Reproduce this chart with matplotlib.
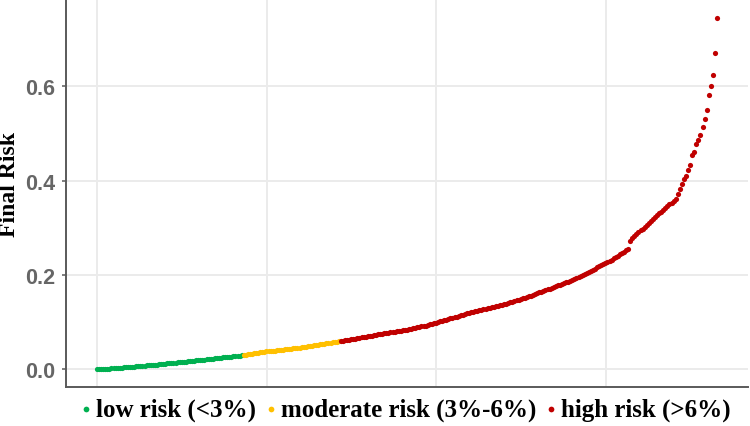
import numpy as np
import matplotlib
matplotlib.use("Agg")
from matplotlib import pyplot as plt

# final risk per patient, sorted
low_risk = [
    0.0000, 0.0003, 0.0006, 0.0009, 0.0012, 0.0016, 0.0019, 0.0022, 0.0025, 0.0028,
    0.0031, 0.0035, 0.0039, 0.0042, 0.0046, 0.0050, 0.0053, 0.0057, 0.0061, 0.0064,
    0.0068, 0.0072, 0.0076, 0.0080, 0.0084, 0.0088, 0.0092, 0.0096, 0.0100, 0.0104,
    0.0108, 0.0113, 0.0117, 0.0122, 0.0126, 0.0131, 0.0135, 0.0140, 0.0144, 0.0149,
    0.0153, 0.0158, 0.0162, 0.0167, 0.0172, 0.0176, 0.0181, 0.0185, 0.0190, 0.0194,
    0.0199, 0.0204, 0.0209, 0.0214, 0.0219, 0.0224, 0.0228, 0.0233, 0.0238, 0.0243,
    0.0248, 0.0253, 0.0258, 0.0263, 0.0268, 0.0273, 0.0279, 0.0284, 0.0289, 0.0294,
    0.0299,
]
moderate_risk = [
    0.0306, 0.0313, 0.0321, 0.0328, 0.0335, 0.0342, 0.0349, 0.0357, 0.0364, 0.0371,
    0.0376, 0.0380, 0.0385, 0.0389, 0.0394, 0.0399, 0.0403, 0.0408, 0.0412, 0.0417,
    0.0423, 0.0429, 0.0434, 0.0440, 0.0446, 0.0452, 0.0458, 0.0463, 0.0469, 0.0475,
    0.0482, 0.0489, 0.0496, 0.0503, 0.0511, 0.0518, 0.0525, 0.0532, 0.0539, 0.0546,
    0.0553, 0.0560, 0.0566, 0.0573, 0.0580, 0.0587, 0.0594,
]
high_risk = [
    0.0601, 0.0607, 0.0614,
    0.0622, 0.0630, 0.0638, 0.0646, 0.0654, 0.0661, 0.0669, 0.0677, 0.0685, 0.0693,
    0.0701, 0.0709, 0.0717, 0.0725, 0.0733, 0.0741, 0.0749, 0.0757, 0.0765, 0.0773,
    0.0780, 0.0787, 0.0794, 0.0801, 0.0809, 0.0816, 0.0823, 0.0830, 0.0837, 0.0844,
    0.0854, 0.0863, 0.0873, 0.0882, 0.0892, 0.0902, 0.0911, 0.0921, 0.0930, 0.0940,
    0.0953, 0.0965, 0.0978, 0.0991, 0.1004, 0.1016, 0.1029, 0.1042, 0.1054, 0.1067,
    0.1080, 0.1094, 0.1107, 0.1121, 0.1134, 0.1147, 0.1161, 0.1174, 0.1188, 0.1201,
    0.1212, 0.1222, 0.1233, 0.1243, 0.1254, 0.1265, 0.1275, 0.1286, 0.1296, 0.1307,
    0.1318, 0.1330, 0.1341, 0.1352, 0.1364, 0.1375, 0.1386, 0.1397, 0.1409, 0.1420,
    0.1435, 0.1449, 0.1464, 0.1478, 0.1493, 0.1508, 0.1522, 0.1537, 0.1551, 0.1566,
    0.1583, 0.1599, 0.1616, 0.1632, 0.1649, 0.1665, 0.1682, 0.1698, 0.1715, 0.1731,
    0.1748, 0.1764, 0.1781, 0.1797, 0.1814, 0.1831, 0.1847, 0.1864, 0.1880, 0.1897,
    0.1919, 0.1940, 0.1962, 0.1984, 0.2006, 0.2027, 0.2049, 0.2071, 0.2092, 0.2114,
    0.2138, 0.2162, 0.2186, 0.2210, 0.2234, 0.2257, 0.2281, 0.2305, 0.2329, 0.2353,
    0.2381, 0.2409, 0.2437, 0.2466, 0.2494, 0.2522, 0.2550,
    0.2730, 0.2777, 0.2824,
    0.2865, 0.2905, 0.2946, 0.2986, 0.3027, 0.3068, 0.3108, 0.3149, 0.3189, 0.3230,
    0.3268, 0.3307, 0.3345, 0.3383, 0.3422, 0.3460, 0.3498, 0.3536, 0.3575, 0.3613,
    0.372, 0.383, 0.394, 0.404, 0.411, 0.422, 0.433, 0.454, 0.461, 0.479,
    0.486, 0.496, 0.513, 0.532, 0.550, 0.582, 0.601, 0.624, 0.670, 0.746,
]

groups = ["low risk (<3%)", "moderate risk (3%-6%)", "high risk (>6%)"]
colors = ["#00B050", "#FFC000", "#C00000"]
n_patients = 1826
y_ticks = [0.0, 0.2, 0.4, 0.6]
x_breaks = [0, 500, 1000, 1500]

risk = np.array(low_risk + moderate_risk + high_risk)
rank = np.linspace(1, n_patients, len(risk))
sizes = [len(low_risk), len(moderate_risk), len(high_risk)]
starts = np.cumsum([0] + sizes)

fig = plt.figure(figsize=(7.5, 4.27), dpi=100)
ax = fig.add_axes([66 / 750, 39 / 427, 682 / 750, 387 / 427])

for k in range(3):
    sl = slice(starts[k], starts[k + 1])
    ax.scatter(rank[sl], risk[sl], s=14, color=colors[k], linewidths=0,
               label=groups[k], zorder=3)

span = n_patients - 1
ax.set_xlim(1 - 0.05 * span, n_patients + 0.05 * span)
ax.set_ylim(-0.0373, 0.7833)
ax.set_xticks(x_breaks)
ax.set_yticks(y_ticks)
ax.set_yticklabels(["%.1f" % t for t in y_ticks])

ax.grid(True, color="#EBEBEB", linewidth=1.4)
ax.set_axisbelow(True)
for s in ["top", "right"]:
    ax.spines[s].set_visible(False)
for s in ["left", "bottom"]:
    ax.spines[s].set_color("#5a5a5a")
    ax.spines[s].set_linewidth(1.4)

ax.tick_params(axis="x", length=0, labelbottom=False)
ax.tick_params(axis="y", length=3.1, width=1.1, color="#5a5a5a", pad=4.8,
               labelcolor="#666666", labelsize=15.5)
for lab in ax.get_yticklabels():
    lab.set_fontfamily("Liberation Sans")
    lab.set_fontweight("bold")

ax.set_ylabel("Final Risk", fontfamily="Liberation Serif", fontweight="bold",
              fontsize=17, color="black")
ax.yaxis.set_label_coords(-0.068, 0.525)

leg = ax.legend(loc="center", bbox_to_anchor=(0.541, 0.04), bbox_transform=fig.transFigure,
                ncol=3, frameon=False, markerscale=1.1, handlelength=0.4,
                handletextpad=0.2, columnspacing=0.4,
                prop={"family": "Liberation Serif", "weight": "bold", "size": 18})

fig.savefig("out.png", dpi=100)
